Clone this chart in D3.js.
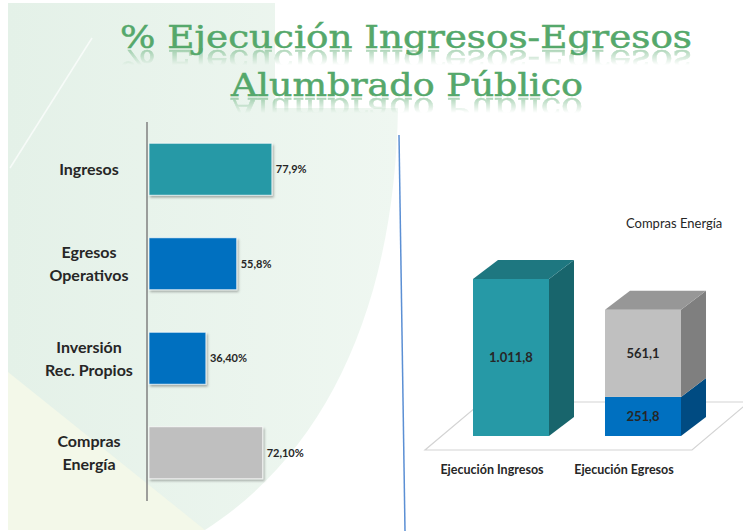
<!DOCTYPE html>
<html>
<head>
<meta charset="utf-8">
<script src="https://cdn.jsdelivr.net/npm/d3@7/dist/d3.min.js"></script>
<style>
    html, body { margin: 0; padding: 0; background: #fff; }
    svg { display: block; }
    .cat-label { font-family: Lato, "Open Sans", sans-serif; font-weight: bold; fill: #262626; }
    .val-label { font-family: Lato, "Open Sans", sans-serif; font-weight: bold; fill: #262626; }
</style>
</head>
<body>
<div id="chart"></div>
<script>
// left chart: % ejecución
var pctCategories = [["Ingresos"], ["Egresos", "Operativos"], ["Inversión", "Rec. Propios"], ["Compras", "Energía"]];
var pctValues = [77.9, 55.8, 36.4, 72.1];
var pctLabels = ["77,9%", "55,8%", "36,40%", "72,10%"];

// right chart: ejecución en valores
var execCategories = ["Ejecución Ingresos", "Ejecución Egresos"];
var ingresosValues = [1011.8, 0];
var egresosOperValues = [0, 251.8];
var comprasEnergiaValues = [0, 561.1];
var legendLabel = "Compras Energía";

var titleLines = ["% Ejecución Ingresos-Egresos", "Alumbrado Público"];

(function () {
    "use strict";

    var width = 743, height = 531;
    var pctColors = ["#2699a6", "#0070c0", "#0070c0", "#bfbfbf"];

    var svg = d3.select('#chart').append('svg')
        .attr('width', width)
        .attr('height', height);

    var defs = svg.append('defs');

    var bgGrad = defs.append('linearGradient').attr('id', 'bgGrad')
        .attr('x1', 0).attr('y1', 0).attr('x2', 1).attr('y2', 0);
    bgGrad.append('stop').attr('offset', 0).attr('stop-color', '#e4f1e8');
    bgGrad.append('stop').attr('offset', 1).attr('stop-color', '#eff7f1');

    var shadow = defs.append('filter').attr('id', 'shadow')
        .attr('x', '-10%').attr('y', '-10%').attr('width', '130%').attr('height', '140%');
    shadow.append('feDropShadow').attr('dx', 1.5).attr('dy', 2).attr('stdDeviation', 1.2)
        .attr('flood-color', '#000').attr('flood-opacity', 0.3);

    //背景
    var bg = svg.append('g').attr('class', 'background');
    bg.append('path')
        .attr('d', 'M8,3 L275,3 L275,108 L398,108 C395,300 330,450 205,530 L8,530 Z')
        .attr('fill', 'url(#bgGrad)');
    bg.append('path')
        .attr('d', 'M8,372 L205,530 L8,530 Z')
        .attr('fill', '#f3f8e9');
    bg.append('line')
        .attr('x1', 10).attr('y1', 168).attr('x2', 92).attr('y2', 38)
        .attr('stroke', '#fff').attr('stroke-width', 1.5).attr('opacity', 0.7);

    //標題 (含倒影)
    var title = svg.append('g').attr('class', 'title');
    var titleSpecs = [
        { x: 406, y: 48, len: 572, size: 31 },
        { x: 407, y: 96, len: 352, size: 31 }
    ];
    titleLines.forEach(function (t, i) {
        var s = titleSpecs[i];
        title.append('text')
            .attr('id', 'title-' + i)
            .attr('x', s.x).attr('y', s.y)
            .attr('text-anchor', 'middle')
            .attr('textLength', s.len)
            .attr('lengthAdjust', 'spacingAndGlyphs')
            .style('font-family', '"DejaVu Serif", "Liberation Serif", serif')
            .style('font-size', s.size + 'px')
            .attr('fill', '#55a86b')
            .attr('stroke', '#55a86b').attr('stroke-width', 0.5)
            .text(t);

        var m = defs.append('mask').attr('id', 'reflMask-' + i)
            .attr('maskUnits', 'userSpaceOnUse')
            .attr('x', 0).attr('y', s.y).attr('width', width).attr('height', 20);
        var mg = m.append('linearGradient').attr('id', 'reflGrad-' + i)
            .attr('gradientUnits', 'userSpaceOnUse')
            .attr('x1', 0).attr('y1', s.y + 1).attr('x2', 0).attr('y2', s.y + 17);
        mg.append('stop').attr('offset', 0).attr('stop-color', '#fff').attr('stop-opacity', 0.5);
        mg.append('stop').attr('offset', 1).attr('stop-color', '#fff').attr('stop-opacity', 0);
        m.append('rect').attr('x', 0).attr('y', s.y).attr('width', width).attr('height', 20)
            .attr('fill', 'url(#reflGrad-' + i + ')');

        title.append('g')
            .attr('mask', 'url(#reflMask-' + i + ')')
            .append('use')
            .attr('href', '#title-' + i)
            .attr('transform', 'translate(0,' + (2 * s.y + 2) + ') scale(1,-1)');
    });

    /* ---------- left: horizontal bars ---------- */
    var xScale = d3.scaleLinear().domain([0, 100]).range([148, 307]);
    var yScale = d3.scaleBand()
        .domain(d3.range(pctValues.length))
        .range([122, 500])
        .paddingInner(0.45)
        .paddingOuter(0.225);

    svg.append('line')
        .attr('x1', 147).attr('x2', 147)
        .attr('y1', 122).attr('y2', 501)
        .attr('stroke', '#808080').attr('stroke-width', 1.5);

    var rows = svg.append('g').attr('class', 'left-bars')
        .selectAll('g').data(pctValues).enter().append('g');

    rows.append('rect')
        .attr('x', xScale(0) + 1)
        .attr('y', function (d, i) { return yScale(i); })
        .attr('width', function (d) { return xScale(d) - xScale(0) - 1; })
        .attr('height', yScale.bandwidth())
        .attr('fill', function (d, i) { return pctColors[i]; })
        .attr('stroke', '#ffffff').attr('stroke-opacity', 0.7).attr('stroke-width', 1)
        .attr('filter', 'url(#shadow)');

    rows.append('text')
        .attr('class', 'val-label')
        .attr('x', function (d) { return xScale(d) + 4; })
        .attr('y', function (d, i) { return yScale(i) + yScale.bandwidth() / 2 + 4; })
        .style('font-size', '11px')
        .text(function (d, i) { return pctLabels[i]; });

    rows.each(function (d, i) {
        var lines = pctCategories[i];
        var cy = yScale(i) + yScale.bandwidth() / 2;
        var lineH = 23;
        d3.select(this).selectAll('text.cat-label').data(lines).enter().append('text')
            .attr('class', 'cat-label')
            .attr('x', 89)
            .attr('y', function (l, j) { return cy + 6 + (j - (lines.length - 1) / 2) * lineH; })
            .attr('text-anchor', 'middle')
            .style('font-size', '16px')
            .text(function (l) { return l; });
    });

    //分隔線
    svg.append('line')
        .attr('x1', 399).attr('y1', 135).attr('x2', 405).attr('y2', 531)
        .attr('stroke', '#5b8fd4').attr('stroke-width', 1.5);

    /* ---------- right: 3D stacked columns ---------- */
    var dx = 25, dy = -19;
    var colX = d3.scaleBand()
        .domain(execCategories)
        .range([417, 737])
        .padding(0.4242);
    var colY = d3.scaleLinear().domain([0, 1000]).range([436, 436 - 155.2]);

    var fmt = d3.formatLocale({ decimal: ",", thousands: ".", grouping: [3], currency: ["$", ""] }).format(",.1f");

    var seriesDefs = [
        { values: ingresosValues, front: '#2699a6', side: '#18656c', top: '#1e7780' },
        { values: egresosOperValues, front: '#0070c0', side: '#004b82', top: '#005a9a' },
        { values: comprasEnergiaValues, front: '#c0c0c0', side: '#7f7f7f', top: '#979797' }
    ];

    var right = svg.append('g').attr('class', 'right-chart');

    //地板
    var floorY = colY(0) + 14;
    var floorX0 = colX(execCategories[0]) - 48;
    var floorX1 = colX(execCategories[1]) + colX.bandwidth() + 11;
    right.append('path')
        .attr('d', 'M' + floorX0 + ',' + floorY +
            ' L' + floorX1 + ',' + floorY +
            ' L' + (floorX1 + 57) + ',' + (floorY - 48) +
            ' L' + (floorX0 + 57) + ',' + (floorY - 48) + ' Z')
        .attr('fill', '#ffffff')
        .attr('stroke', '#d4d4d4').attr('stroke-width', 1.2);

    //堆疊資料
    var stackData = execCategories.map(function (c, i) {
        var base = 0, segs = [];
        seriesDefs.forEach(function (s) {
            var v = s.values[i];
            if (v > 0) {
                segs.push({ cat: c, v0: base, v1: base + v, value: v, style: s });
                base += v;
            }
        });
        if (segs.length) { segs[segs.length - 1].isTop = true; }
        return segs;
    });

    stackData.forEach(function (segs) {
        segs.forEach(function (sg) {
            var x = colX(sg.cat), w = colX.bandwidth();
            var y0 = colY(sg.v0), y1 = colY(sg.v1);
            var g = right.append('g');
            g.append('rect')
                .attr('x', x).attr('y', y1)
                .attr('width', w).attr('height', y0 - y1)
                .attr('fill', sg.style.front);
            g.append('path')
                .attr('d', 'M' + (x + w) + ',' + y1 +
                    ' L' + (x + w + dx) + ',' + (y1 + dy) +
                    ' L' + (x + w + dx) + ',' + (y0 + dy) +
                    ' L' + (x + w) + ',' + y0 + ' Z')
                .attr('fill', sg.style.side);
            if (sg.isTop) {
                g.append('path')
                    .attr('d', 'M' + x + ',' + y1 +
                        ' L' + (x + dx) + ',' + (y1 + dy) +
                        ' L' + (x + w + dx) + ',' + (y1 + dy) +
                        ' L' + (x + w) + ',' + y1 + ' Z')
                    .attr('fill', sg.style.top);
            }
            g.append('text')
                .attr('class', 'val-label')
                .attr('x', x + w / 2)
                .attr('y', (y0 + y1) / 2 + 5)
                .attr('text-anchor', 'middle')
                .style('font-size', '13px')
                .attr('fill', '#1a1a1a')
                .text(fmt(sg.value));
        });
    });

    right.selectAll('text.cat-label').data(execCategories).enter().append('text')
        .attr('class', 'cat-label')
        .attr('x', function (d) { return colX(d) + colX.bandwidth() / 2 - 19; })
        .attr('y', 474)
        .attr('text-anchor', 'middle')
        .style('font-size', '12.5px')
        .text(function (d) { return d; });

    right.append('text')
        .attr('x', 626).attr('y', 228)
        .style('font-family', 'Lato, "Open Sans", sans-serif')
        .style('font-size', '13px')
        .attr('fill', '#262626')
        .text(legendLabel);
})();
</script>
</body>
</html>
